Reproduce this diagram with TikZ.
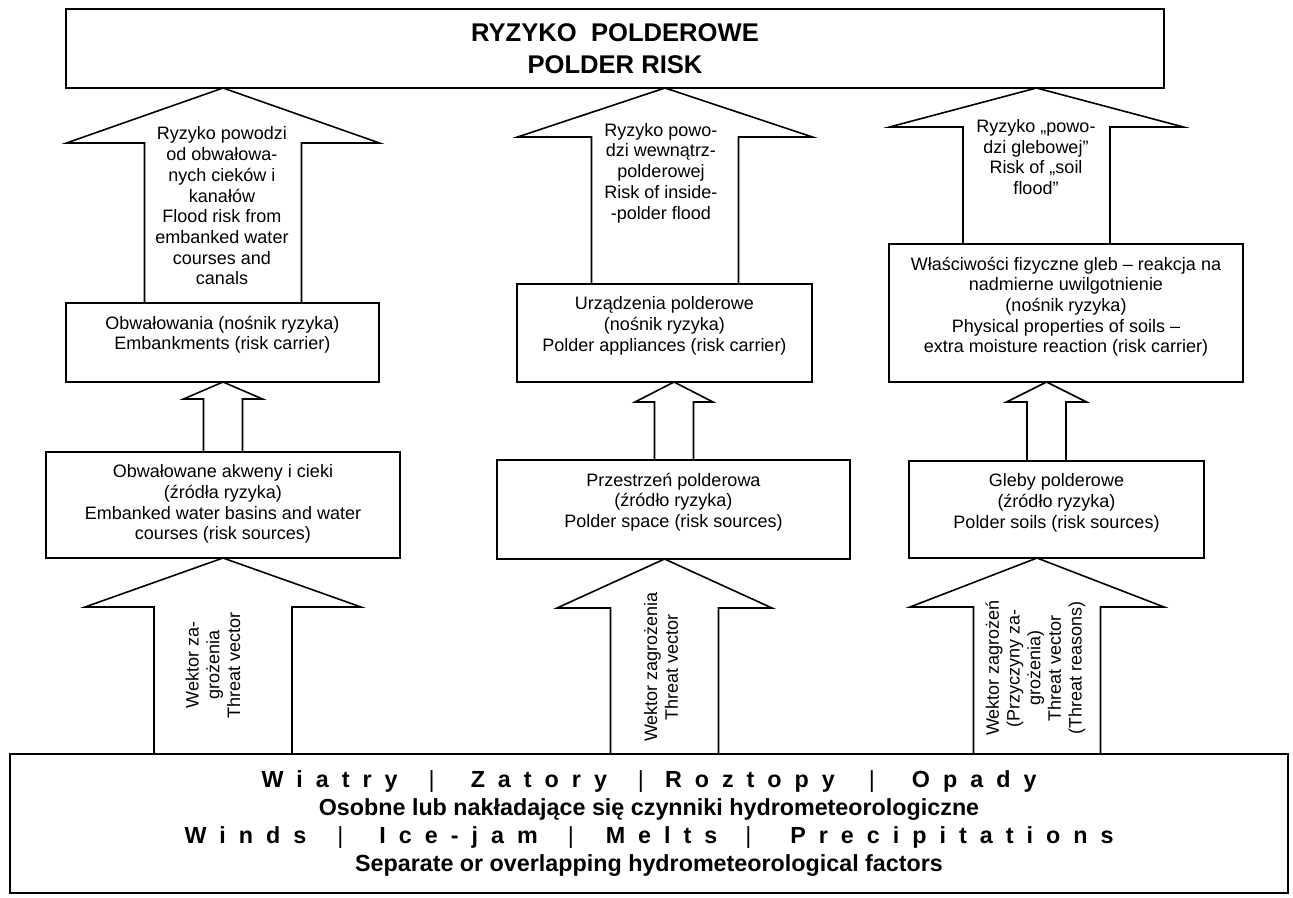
\documentclass[tikz,border=0pt]{standalone}
\usepackage{fontspec}
\setmainfont{Liberation Sans}
\usepackage{tikz}
\usetikzlibrary{calc,positioning}
\newcommand{\boxfont}{\fontsize{18}{20.7}\selectfont}
\newcommand{\titlefont}{\fontsize{25.6}{32}\selectfont\bfseries}
\newcommand{\factfont}{\fontsize{23.3}{28}\selectfont\bfseries}
\newcommand{\sepbar}[2]{\hspace{#1pt}{\mdseries|}\hspace{#2pt}}
\tikzset{
	polder diagram/.style={
		x=1pt, y=-1pt,
		line width=1.6pt,
		every node/.style={font=\boxfont, align=center}
		},
	cell/.code 2 args={
		\pgfkeysalso{draw, rectangle, inner sep=0pt, outer sep=0pt,
			minimum width=#1pt, minimum height=#2pt}
	},
	cell text/.style={
		prefix after command={\pgfextra{\let\fixname\tikzlastnode}},
		append after command={\pgfextra{\node[anchor=north, inner sep=0pt, yshift=-12pt] (\fixname-txt) at (\fixname.north) {#1};}}},
	block/.style={line join=miter, miter limit=20},
	vec text/.style={rotate=90, inner sep=0pt}
}
\newcommand{\upblock}[6]{%
	\draw[block] let \p1=(#1.north), \p2=(#2.south) in
		(#3-#4,\y1) -- (#3-#4,\y2-#6pt) -- (#3-#5,\y2-#6pt) -- (#3,\y2)
		-- (#3+#5,\y2-#6pt) -- (#3+#4,\y2-#6pt) -- (#3+#4,\y1);}

\begin{document}
\begin{tikzpicture}[polder diagram]
  \useasboundingbox (0,0) rectangle (1293,897);
  \node[cell={1098}{79}, font=\titlefont] (R) at (615,48.5) {RYZYKO\ \ POLDEROWE\\POLDER RISK};
  \node[cell={313}{79}, cell text={Obwałowania (nośnik ryzyka)\\Embankments (risk carrier)}] (C1) at (222.5,342.5) {};
  \node[cell={295}{98}, cell text={Urządzenia polderowe\\(nośnik ryzyka)\\Polder appliances (risk carrier)}] (C2) at (664.5,333) {};
  \node[cell={354}{138}, cell text={Właściwości fizyczne gleb – reakcja na\\nadmierne uwilgotnienie\\(nośnik ryzyka)\\Physical properties of soils –\\extra moisture reaction (risk carrier)}] (C3) at (1066,313) {};
  \node[cell={354}{106}, cell text={Obwałowane akweny i cieki\\(źródła ryzyka)\\Embanked water basins and water\\courses (risk sources)}] (S1) at (223,505) {};
  \node[cell={353}{99}, cell text={Przestrzeń polderowa\\(źródło ryzyka)\\Polder space (risk sources)}] (S2) at (673.5,509.5) {};
  \node[cell={295}{97}, cell text={Gleby polderowe\\(źródło ryzyka)\\Polder soils (risk sources)}] (S3) at (1056.5,509.5) {};
  \node[cell={1278}{139}, font=\factfont] (F) at (649,823.5) {%
    {\spaceskip=13pt\relax W i a t r y\sepbar{31}{36}Z a t o r y\sepbar{31}{21}R o z t o p y\sepbar{34}{37}O p a d y}\\
    Osobne lub nakładające się czynniki hydrometeorologiczne\\
    {\spaceskip=13pt\relax W i n d s\sepbar{31}{36}I c e - j a m\sepbar{30}{32}M e l t s\sepbar{28}{39}P r e c i p i t a t i o n s}\\
    Separate or overlapping hydrometeorological factors};
  \upblock{C1}{R}{223}{78.5}{156.5}{55}
  \upblock{S1}{C1}{223}{19.5}{39.5}{17}
  \upblock{F}{S1}{223}{69}{138}{49}
  \upblock{C2}{R}{665}{73.5}{147.5}{49}
  \upblock{S2}{C2}{674}{19.5}{39}{20}
  \upblock{F}{S2}{664.5}{54}{107.5}{49}
  \upblock{C3}{R}{1036.5}{73.5}{147}{39}
  \upblock{S3}{C3}{1046.5}{19.5}{40}{20}
  \upblock{F}{S3}{1037}{63.5}{127}{49}
  \node (T1) at (222,206) {Ryzyko powodzi\\od obwałowa-\\nych cieków i\\kanałów\\Flood risk from\\embanked water\\courses and\\canals};
  \node (T2) at (661,173) {Ryzyko powo-\\dzi wewnątrz-\\polderowej\\Risk of inside-\\-polder flood};
  \node (T3) at (1036,157) {Ryzyko „powo-\\dzi glebowej”\\Risk of „soil\\flood”};
  \node[vec text] (V1) at (213,665) {Wektor za-\\grożenia\\Threat vector};
  \node[vec text] (V2) at (661,667) {Wektor zagrożenia\\Threat vector};
  \node[vec text] (V3) at (1035.5,668) {Wektor zagrożeń\\(Przyczyny za-\\grożenia)\\Threat vector\\(Threat reasons)};
\end{tikzpicture}
\end{document}
